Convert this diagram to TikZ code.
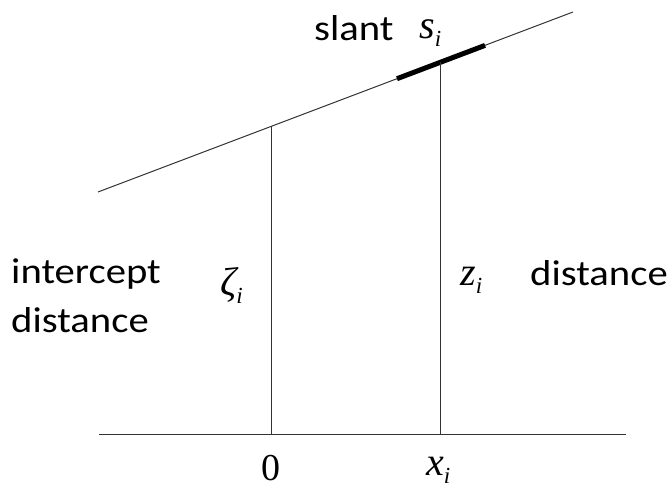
\documentclass[tikz,border=0pt]{standalone}
\usepackage{fontspec}
\usepackage{graphicx}
\setmainfont{Carlito}
\newfontfamily\tms{Liberation Serif}
\newcommand{\wtxt}[1]{\scalebox{1.13}[1]{\fontsize{36}{40}\selectfont #1}}
\newcommand{\mvar}[2]{{\tms\itshape\fontsize{40}{44}\selectfont #1}\raisebox{-8pt}{\tms\itshape\fontsize{23}{26}\selectfont #2}}
\tikzset{
  thinline/.style={line width=1pt, draw=black!80},
  thickseg/.style={line width=5pt, draw=black},
  lbl/.style={inner sep=0pt, anchor=base west},
}
\begin{document}
\begin{tikzpicture}[x=1pt,y=-1pt]
\useasboundingbox (0,0) rectangle (671,489);
% coordinates
\coordinate (A) at (98,192);
\coordinate (B) at (573,12);
\coordinate (T1) at (397,78.7);
\coordinate (T2) at (485,45.4);
\coordinate (P0) at (271,126.4);
\coordinate (PX) at (440,62.4);
\coordinate (B0) at (271,434);
\coordinate (BX) at (440,434);
\coordinate (L) at (99,434);
\coordinate (R) at (626,434);
% lines
\draw[thinline] (A) -- (B);
\draw[thickseg] (T1) -- (T2);
\draw[thinline] (P0) -- (B0);
\draw[thinline] (PX) -- (BX);
\draw[thinline] (L) -- (R);
% labels
\node[lbl] (slant) at (314,41) {\wtxt{slant}};
\node[lbl] (si) at (419,39) {\mvar{s}{i}};
\node[lbl] (int) at (11,283) {\wtxt{intercept}};
\node[lbl] (dl) at (11,332) {\wtxt{distance}};
\node[lbl] (zeta) at (220,295) {\mvar{ζ}{i}};
\node[lbl] (zi) at (460,285) {\mvar{z}{i}};
\node[lbl] (dr) at (530,285) {\wtxt{distance}};
\node[inner sep=0pt, anchor=base] (zero) at (271,480) {\tms\fontsize{38}{42}\selectfont 0};
\node[lbl] (xi) at (426,475) {\mvar{x}{i}};
\end{tikzpicture}
\end{document}
